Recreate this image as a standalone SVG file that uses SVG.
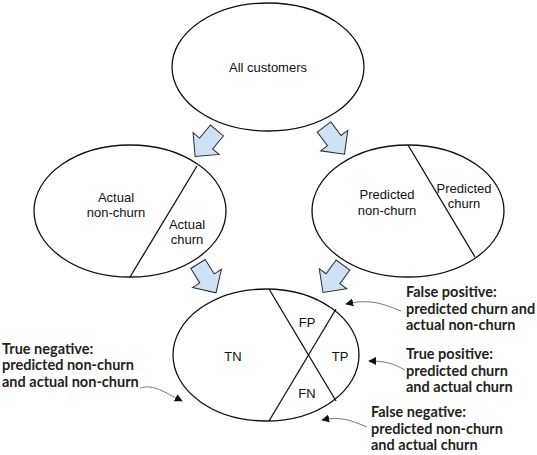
<svg xmlns="http://www.w3.org/2000/svg" xmlns:xlink="http://www.w3.org/1999/xlink" width="537" height="455" viewBox="0 0 537 455">
<style>
.ell{fill:#fff;stroke:#111;stroke-width:1.3}
.div{stroke:#111;stroke-width:1.3;fill:none}
.lbl{font-family:"Liberation Sans",Arial,sans-serif;font-size:13px;fill:#111;text-anchor:middle}
.ann{font-family:Lato,"Open Sans",sans-serif;font-weight:bold;font-size:14.5px;fill:#231f20}
.blk{fill:#cfe2f3;stroke:#2a2a2a;stroke-width:1}
.lead{fill:none;stroke:#777;stroke-width:1;marker-end:url(#ah)}
</style>
<defs>
<polygon id="blkarrow" points="0,-8.5 17,-8.5 17,-17 34,0 17,17 17,8.5 0,8.5"/>
<marker id="ah" viewBox="0 0 10 10" refX="9" refY="5" markerWidth="8" markerHeight="8" markerUnits="userSpaceOnUse" orient="auto">
<path d="M0,0 L10,5 L0,10 z" fill="#111"/>
</marker>
</defs>
<rect width="537" height="455" fill="#fff"/>

<g id="all-customers">
<ellipse class="ell" cx="268" cy="67" rx="96" ry="64"/>
<text class="lbl" x="268" y="72">All customers</text>
</g>

<g id="actual">
<ellipse class="ell" cx="130" cy="211" rx="96" ry="66"/>
<line class="div" x1="197" y1="166" x2="130" y2="277"/>
<text class="lbl" x="116" y="201.5">Actual</text>
<text class="lbl" x="116" y="216.5">non-churn</text>
<text class="lbl" x="187" y="228.5">Actual</text>
<text class="lbl" x="187" y="243.5">churn</text>
</g>

<g id="predicted">
<ellipse class="ell" cx="408" cy="211" rx="96" ry="66"/>
<line class="div" x1="408" y1="145" x2="475" y2="257"/>
<text class="lbl" x="387" y="198.5">Predicted</text>
<text class="lbl" x="387" y="214.5">non-churn</text>
<text class="lbl" x="464" y="192.5">Predicted</text>
<text class="lbl" x="464" y="207.5">churn</text>
</g>

<g id="confusion">
<ellipse class="ell" cx="266" cy="355" rx="93" ry="66"/>
<line class="div" x1="269" y1="289" x2="336" y2="401"/>
<line class="div" x1="336" y1="309" x2="269" y2="421"/>
<text class="lbl" x="233" y="361">TN</text>
<text class="lbl" x="307" y="327">FP</text>
<text class="lbl" x="340" y="361">TP</text>
<text class="lbl" x="307" y="398">FN</text>
</g>

<g id="connectors">
<use xlink:href="#blkarrow" href="#blkarrow" class="blk" transform="translate(217,130.5) rotate(130)"/>
<use xlink:href="#blkarrow" href="#blkarrow" class="blk" transform="translate(324,127) rotate(53)"/>
<use xlink:href="#blkarrow" href="#blkarrow" class="blk" transform="translate(198,264) rotate(58)"/>
<use xlink:href="#blkarrow" href="#blkarrow" class="blk" transform="translate(343,265) rotate(126)"/>
<path class="lead" d="M401,311 C385,305 372,298 346,304"/>
<path class="lead" d="M405,370 C392,363 385,361 369,361"/>
<path class="lead" d="M367,427 C350,420 340,416 322,420"/>
<path class="lead" d="M140,388 C154,384 164,392 182,401"/>
</g>

<g id="ann-fp">
<text class="ann" x="406" y="297">False positive:</text>
<text class="ann" x="406" y="313.5">predicted churn and</text>
<text class="ann" x="406" y="330">actual non-churn</text>
</g>
<g id="ann-tp">
<text class="ann" x="406" y="359">True positive:</text>
<text class="ann" x="406" y="375.5">predicted churn</text>
<text class="ann" x="406" y="392">and actual churn</text>
</g>
<g id="ann-fn">
<text class="ann" x="371" y="417">False negative:</text>
<text class="ann" x="371" y="433.5">predicted non-churn</text>
<text class="ann" x="371" y="450">and actual churn</text>
</g>
<g id="ann-tn">
<text class="ann" x="2" y="353.5">True negative:</text>
<text class="ann" x="2" y="370">predicted non-churn</text>
<text class="ann" x="2" y="386.5">and actual non-churn</text>
</g>
</svg>
